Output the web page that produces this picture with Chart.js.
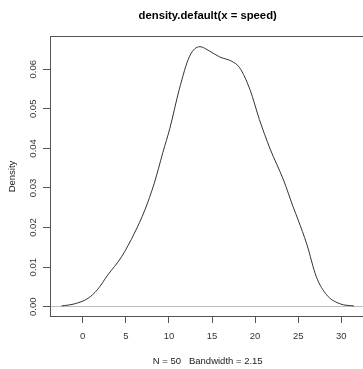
<!DOCTYPE html>
<html>
<head>
<meta charset="utf-8">
<script src="https://cdn.jsdelivr.net/npm/chart.js@4/dist/chart.umd.min.js"></script>
<style>
  html, body { margin: 0; padding: 0; background: #fff; overflow: hidden; }
  canvas { display: block; }
</style>
</head>
<body>
<canvas id="c" width="370" height="369"></canvas>
<script>
// Density estimate values
const speedValues = [-2.45, -1.0, 0.6, 1.7, 2.9, 4.5, 6.0, 7.2, 8.3, 9.3, 10.1, 11.2, 12.4, 13.6, 14.7, 15.9, 17.3, 18.2, 19.4, 20.5, 21.7, 23.3, 24.4, 25.0, 26.0, 27.1, 28.3, 29.9, 31.45];
const densityValues = [0.0002, 0.0007, 0.0021, 0.0043, 0.0080, 0.0126, 0.0186, 0.0244, 0.0312, 0.0390, 0.0450, 0.0549, 0.0633, 0.0657, 0.0646, 0.0631, 0.0620, 0.0604, 0.0549, 0.0473, 0.0401, 0.0320, 0.0253, 0.0219, 0.0158, 0.0076, 0.0030, 0.0007, 0.0002];
const xTickStep = 5;
const yTickStep = 0.01;
const xRange = [-3.8, 32.8];
const yRange = [-0.0026, 0.0684];
const chartTitle = 'density.default(x = speed)';
const xTitle = 'N = 50   Bandwidth = 2.15';
const yTitle = 'Density';

const FONT = '"Liberation Sans", Arial, sans-serif';

const points = speedValues.map((x, i) => ({ x: x, y: densityValues[i] }));

const boxAndLabels = {
  id: 'boxAndLabels',
  afterDraw(chart) {
    const ctx = chart.ctx;
    const a = chart.chartArea;
    ctx.save();
    ctx.strokeStyle = '#555';
    ctx.lineWidth = 1;
    ctx.strokeRect(Math.round(a.left) + 0.5, Math.round(a.top) + 0.5,
                   a.right - Math.round(a.left), Math.round(a.bottom) - Math.round(a.top) - 1);
    // rotated y tick labels (R style)
    const ys = chart.scales.y;
    ctx.fillStyle = '#333';
    ctx.font = '9.5px ' + FONT;
    ctx.textAlign = 'center';
    ctx.textBaseline = 'middle';
    ys.ticks.forEach(t => {
      const py = ys.getPixelForValue(t.value);
      ctx.save();
      ctx.translate(33, py);
      ctx.rotate(-Math.PI / 2);
      ctx.fillText(t.value.toFixed(2), 0, 0);
      ctx.restore();
    });
    ctx.restore();
  }
};

new Chart(document.getElementById('c'), {
  type: 'line',
  data: {
    datasets: [{
      data: points,
      borderColor: '#333',
      borderWidth: 1,
      pointRadius: 0,
      fill: false,
      cubicInterpolationMode: 'monotone'
    }]
  },
  options: {
    responsive: false,
    animation: false,
    devicePixelRatio: 1,
    layout: { padding: { left: 0, right: 4.6, top: 0, bottom: 0 } },
    plugins: {
      legend: { display: false },
      tooltip: { enabled: false },
      title: {
        display: true,
        text: chartTitle,
        fullSize: false,
        color: '#000',
        font: { family: FONT, size: 11.3, weight: 'bold' },
        padding: { top: 8.7, bottom: 13.74 }
      }
    },
    scales: {
      x: {
        type: 'linear',
        position: 'bottom',
        min: xRange[0],
        max: xRange[1],
        afterFit: s => { s.height = 52; },
        ticks: {
          stepSize: xTickStep,
          includeBounds: false,
          autoSkip: false,
          maxRotation: 0,
          color: '#333',
          padding: 8,
          font: { family: FONT, size: 9.5 }
        },
        grid: {
          drawOnChartArea: false,
          drawTicks: true,
          tickLength: 6,
          tickColor: '#555',
          lineWidth: 1
        },
        border: { display: false },
        title: {
          display: true,
          text: xTitle,
          color: '#222',
          font: { family: FONT, size: 9.5 },
          padding: { top: 0, bottom: 2 }
        }
      },
      y: {
        type: 'linear',
        position: 'left',
        min: yRange[0],
        max: yRange[1],
        afterFit: s => { s.width = 50; },
        ticks: {
          stepSize: yTickStep,
          includeBounds: false,
          display: false
        },
        grid: {
          drawOnChartArea: true,
          drawTicks: true,
          tickLength: 7,
          tickColor: '#555',
          lineWidth: 1,
          color: c => (c.tick && Math.abs(c.tick.value) < 1e-9) ? '#bebebe' : 'rgba(0,0,0,0)'
        },
        border: { display: false },
        title: {
          display: true,
          text: yTitle,
          color: '#222',
          font: { family: FONT, size: 9.5 },
          padding: { top: 6.8, bottom: 0 }
        }
      }
    }
  },
  plugins: [boxAndLabels]
});
</script>
</body>
</html>
